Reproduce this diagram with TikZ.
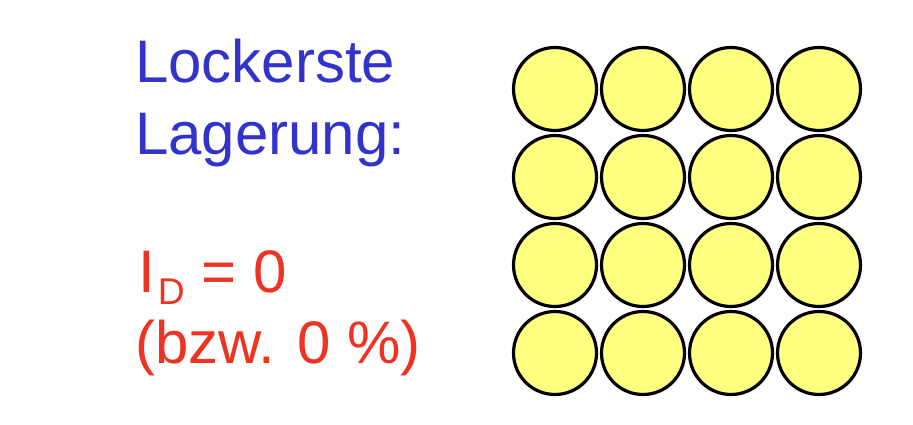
\documentclass[tikz,border=0pt]{standalone}
\usepackage{fontspec}
\setmainfont{Liberation Sans}
\usepackage{xcolor}
\usepackage{tikz}
\usetikzlibrary{positioning}
\definecolor{titleblue}{HTML}{3333CC}
\definecolor{indexred}{HTML}{EE3322}
\definecolor{grainyellow}{HTML}{FFFF80}

\begin{document}
\begin{tikzpicture}[x=1pt, y=-1pt,
  grain/.style={circle, draw=black, line width=3.2pt, fill=grainyellow,
                minimum size=83pt, inner sep=0pt},
  bigtext/.style={anchor=base west, inner sep=0pt,
                  font=\fontsize{60}{72}\selectfont}
]
\useasboundingbox (0,0) rectangle (913,425);

% Title
\node[bigtext, text=titleblue] (lock) at (135,83) {Lockerste};
\node[bigtext, text=titleblue] (lager) at (135,155) {Lagerung:};

% Density index
\node[bigtext, text=indexred] (idx) at (138,292)
  {I\hspace{3pt}\raisebox{-12pt}{\scalebox{0.62}{D}} = 0};
\node[bigtext, text=indexred] (pct) at (135,363) {(bzw. 0 \%)};

% Grains, loosest packing
\foreach \i in {0,...,3}
  \foreach \j in {0,...,3}
    \node[grain] (g\i\j) at ({555+88*\i},{89+88*\j}) {};

\end{tikzpicture}
\end{document}
